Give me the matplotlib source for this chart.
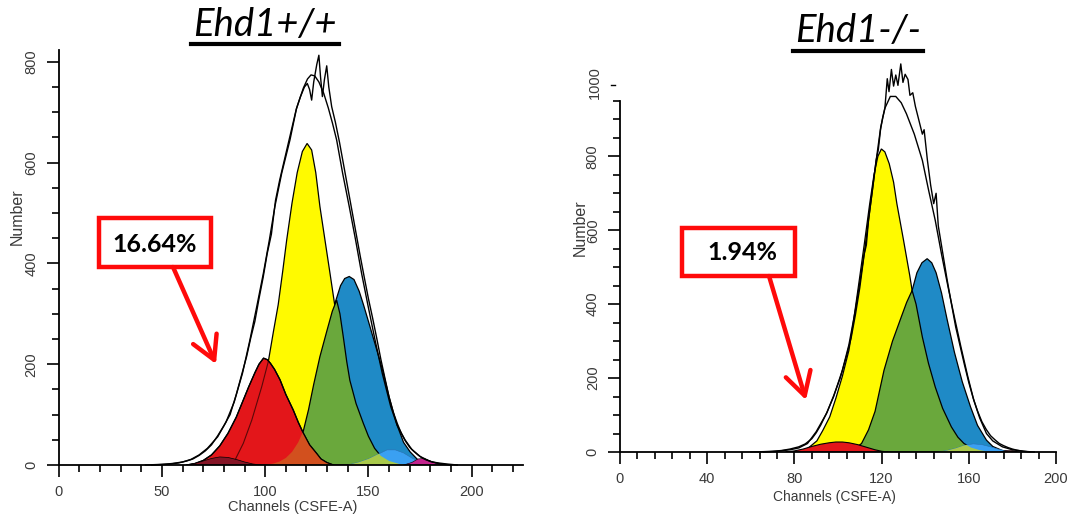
import matplotlib
matplotlib.use('Agg')
import matplotlib.pyplot as plt
from matplotlib.ticker import MultipleLocator
from matplotlib.lines import Line2D
from matplotlib.patches import Rectangle

# ---------------- data : left panel (Ehd1+/+) ----------------
L_darkred_x = [62, 66, 70, 74, 78, 82, 86, 90, 94, 98]
L_darkred_y = [0, 3, 8, 13, 16, 15, 11, 6, 2, 0]

L_red_x = [62, 66, 70, 74, 78, 82, 86, 89, 92, 95, 97, 99.2, 101, 102.5, 104.5, 107.2, 110, 113.6, 116, 118.5, 121.5, 124.9, 127, 129.8, 133]
L_red_y = [0, 3, 9, 20, 38, 63, 95, 125, 155, 183, 200, 212, 209, 202, 190, 169, 140, 109, 85, 63, 40, 23, 12, 5, 0]

L_yel_x = [82, 85.4, 89.4, 93.5, 98.3, 101.5, 104, 106.3, 108.5, 110.4, 113, 115.5, 118, 120.3, 122.5, 124.5, 126.5, 129, 131.4, 133.8, 136.5, 139, 142, 145, 148, 152, 156, 160]
L_yel_y = [0, 10, 43, 89, 155, 205, 265, 318, 385, 446, 520, 580, 622, 638, 625, 580, 513, 445, 380, 314, 245, 185, 125, 80, 45, 18, 5, 0]

L_green_x = [100, 104, 107, 110, 113, 116, 118.5, 121, 123.5, 126.5, 129.8, 132.5, 134.6, 136.2, 137.8, 139.5, 141, 144, 147.5, 150, 153, 156, 160, 165, 170]
L_green_y = [0, 3, 7, 14, 26, 45, 68, 110, 160, 215, 265, 305, 327, 300, 255, 205, 168, 122, 83, 57, 33, 18, 8, 2, 0]

L_blue_x = [124, 127, 130, 133.8, 136.5, 138.5, 140.7, 143, 145.5, 147.6, 150, 152.5, 155, 157.2, 160, 163.7, 167, 170.2, 174, 178, 182]
L_blue_y = [0, 60, 170, 321, 356, 370, 374, 368, 345, 318, 285, 250, 215, 183, 135, 81, 45, 26, 10, 3, 0]

L_lb_x = [140, 145, 150, 155, 159, 163, 167, 171, 175, 179, 182]
L_lb_y = [0, 5, 12, 22, 30, 30, 24, 14, 6, 2, 0]

L_mag_x = [167, 171, 174, 177, 180, 183, 187]
L_mag_y = [0, 5, 12, 13, 8, 3, 0]

L_fit_x = [45, 50, 55, 60, 64, 68, 72, 77, 81, 85, 89, 92.6, 95.9, 99.1, 102, 104.7, 108, 112, 115.2, 118.5, 120.5, 122.2, 124, 126, 128.3, 130.6, 132.6, 134.6, 137.5, 140.7, 143.8, 146.7, 149.9, 153.2, 156.7, 160.8, 164, 167.7, 171, 175, 180, 185, 190]
L_fit_y = [0, 1, 3, 6, 11, 20, 33, 56, 85, 125, 182, 248, 314, 380, 446, 513, 579, 645, 708, 748, 766, 774, 772, 760, 738, 708, 678, 645, 579, 513, 446, 380, 314, 248, 182, 116, 78, 50, 31, 17, 7, 2, 0]

L_dat_x = [42, 48, 54, 58, 62, 65, 68, 71, 74, 77, 80, 83, 86, 89, 91, 93, 95, 97, 99, 101, 103, 105, 107, 109, 111, 113, 115, 117, 119, 120.4, 121.5, 122.5, 123.5, 125, 126, 126.8, 127.7, 128.7, 129.8, 130.8, 132.2, 134, 136, 138, 140, 142, 144, 146, 148, 150, 152, 154, 156, 158, 160, 162, 164, 166, 168, 170, 172, 174, 176, 178, 181, 184, 188, 193]
L_dat_y = [0, 1, 2, 4, 8, 12, 19, 28, 40, 58, 78, 100, 140, 185, 215, 252, 285, 330, 372, 420, 458, 525, 565, 600, 635, 670, 705, 730, 750, 757, 745, 724, 760, 795, 813, 770, 731, 765, 792, 750, 711, 680, 640, 595, 550, 505, 460, 415, 372, 330, 292, 252, 210, 172, 135, 105, 82, 62, 47, 35, 27, 20, 14, 10, 6, 4, 2, 0]

# ---------------- data : right panel (Ehd1-/-) ----------------
R_red_x = [76, 80, 84, 88, 92, 96, 99, 102, 105, 109, 113, 117, 120, 123]
R_red_y = [0, 3, 8, 15, 21, 25, 27, 27, 25, 20, 13, 6, 2, 0]

R_yel_x = [82, 86, 90.3, 93, 96.2, 99, 102, 105, 107, 109.4, 112, 114.5, 116.5, 118.3, 119.9, 121.5, 123.5, 125.5, 127, 130, 132.9, 134, 136, 138, 141, 144, 147, 150, 154, 158, 162]
R_yel_y = [0, 9, 30, 58, 95, 145, 205, 275, 350, 450, 560, 670, 750, 800, 820, 812, 780, 730, 672, 575, 478, 437, 380, 320, 240, 160, 100, 58, 25, 8, 0]

R_green_x = [104, 107, 110.8, 114, 117, 121.1, 125, 129, 131.5, 134, 135.8, 138.7, 141.5, 144.6, 148, 152, 155, 157.8, 161, 165, 170]
R_green_y = [0, 6, 23, 60, 110, 221, 300, 365, 405, 437, 400, 311, 240, 176, 118, 68, 40, 23, 12, 5, 0]

R_blue_x = [124, 128, 131, 134, 136.2, 138.5, 140.9, 143, 145, 147.5, 150, 153.4, 157, 160.8, 164, 168.1, 171, 175.4, 179]
R_blue_y = [0, 100, 280, 437, 485, 512, 523, 512, 485, 430, 360, 270, 190, 122, 72, 32, 15, 4, 0]

R_lb_x = [146, 150, 154, 158, 162, 166, 170, 174, 178, 181]
R_lb_y = [0, 4, 10, 18, 22, 20, 14, 7, 2, 0]

R_dr_x = [174, 177, 180, 183]
R_dr_y = [0, 4, 4, 0]

R_fit_x = [66, 72, 78, 82, 86, 90, 94.7, 98, 102, 105, 108, 110, 112.3, 114, 116, 118, 119.6, 121.5, 124, 126.5, 129, 131.4, 135, 138.7, 141.5, 144.6, 147.5, 150.5, 153.5, 156.4, 159.5, 162.3, 165, 168.1, 171, 175.4, 180, 184, 188]
R_fit_y = [0, 2, 6, 11, 23, 55, 104, 150, 221, 290, 385, 458, 548, 628, 720, 810, 879, 930, 962, 962, 945, 915, 860, 789, 710, 627, 535, 446, 362, 284, 205, 140, 92, 50, 30, 14, 6, 3, 0]

R_dat_x = [60, 66, 70, 74, 78, 82, 85, 88, 90, 92, 95, 98, 101, 104, 106, 108, 110, 112, 113, 114, 116, 117.5, 118.5, 119.5, 120.5, 121.5, 122.6, 123.4, 124.5, 125.5, 126.5, 127.5, 128.8, 129.8, 130.8, 132.1, 133, 134.3, 135.5, 137, 138.7, 139.5, 141, 142.5, 143.9, 145, 146, 147.5, 150, 152, 154, 156, 158, 160, 162, 164, 166, 168, 170, 172, 174, 176, 178, 180, 182, 185, 190]
R_dat_y = [0, 1, 2, 4, 8, 14, 22, 36, 52, 72, 108, 152, 200, 262, 308, 372, 445, 535, 560, 628, 718, 790, 818, 872, 905, 930, 1010, 975, 1035, 990, 1020, 992, 1050, 1000, 1022, 1008, 965, 972, 935, 900, 860, 872, 790, 722, 672, 700, 612, 558, 468, 402, 338, 287, 236, 188, 146, 111, 82, 61, 44, 33, 23, 17, 12, 8, 5, 2, 0]

# tick / label text
L_xticks = [0, 50, 100, 150, 200]
L_yticks = [0, 200, 400, 600, 800]
R_xticks = [0, 40, 80, 120, 160, 200]
R_yticks = [0, 200, 400, 600, 800]
titles = ["Ehd1+/+", "Ehd1-/-"]
percents = ["16.64%", "1.94%"]
xlabel = "Channels (CSFE-A)"
ylabel = "Number"

# ---------------- colours ----------------
C_YEL = '#fffa00'
C_GREEN = '#6aa83c'
C_BLUE = '#1f8ac6'
C_RED = '#e3161a'
C_ORANGE = '#d2501e'
C_DARKRED = '#851526'
C_LBLUE = '#3aa0f2'
C_LGREEN = '#a9c94a'
C_MAG = '#c2228c'
C_BOX = '#ff0a0a'
TXT = '#3a3a3a'

W, H = 1090, 531
fig = plt.figure(figsize=(W / 100, H / 100), dpi=100)


def fx(px):
    return px / W


def fy(py):
    return 1 - py / H


axL = fig.add_axes([fx(58.7), fy(465), 464.6 / W, 0.504 * 823 / H])
axR = fig.add_axes([fx(620), fy(452), 436 / W, 0.3696 * 950 / H])


def style_axes(ax, xmax, ymax, xmin, xt, yt):
    ax.set_xlim(0, xmax)
    ax.set_ylim(0, ymax)
    for s in ['top', 'right']:
        ax.spines[s].set_visible(False)
    for s in ['left', 'bottom']:
        ax.spines[s].set_linewidth(1.3)
    ax.set_xticks(xt)
    ax.set_yticks(yt)
    ax.xaxis.set_minor_locator(MultipleLocator(xmin))
    ax.yaxis.set_minor_locator(MultipleLocator(50))
    ax.tick_params(which='major', direction='out', length=8.5, width=1.2, pad=6,
                   labelsize=10.5, labelcolor=TXT, labelfontfamily='Liberation Sans')
    ax.tick_params(which='minor', direction='out', length=5, width=1.2)
    ax.tick_params(axis='y', labelrotation=90)
    for lab in ax.get_yticklabels():
        lab.set_va('center')
    ax.patch.set_alpha(0)


def fill(ax, x, y, color, lw=0.9, ec='black', z=2):
    return ax.fill(x, y, facecolor=color, edgecolor=ec, linewidth=lw, zorder=z)[0]


# ---------------- left panel ----------------
style_axes(axL, 225, 823, 10, L_xticks, L_yticks)
fill(axL, L_yel_x, L_yel_y, C_YEL)
fill(axL, L_blue_x, L_blue_y, C_BLUE)
gL = fill(axL, L_green_x, L_green_y, C_GREEN)
rL = fill(axL, L_red_x, L_red_y, C_RED)
o = fill(axL, L_red_x, L_red_y, C_ORANGE, lw=0)
o.set_clip_path(gL)
ln, = axL.plot(L_yel_x, L_yel_y, color='#5a0808', lw=0.8, zorder=2)
ln.set_clip_path(rL)
axL.plot(L_red_x, L_red_y, color='black', lw=0.9, zorder=2)
fill(axL, L_darkred_x, L_darkred_y, C_DARKRED, lw=0.5)
fill(axL, L_lb_x, L_lb_y, C_LBLUE, lw=0.4, ec='#2a70b0')
lg = fill(axL, L_lb_x, L_lb_y, C_LGREEN, lw=0)
lg.set_clip_path(gL)
fill(axL, L_mag_x, L_mag_y, C_MAG, lw=0.4)
axL.plot(L_fit_x, L_fit_y, color='black', lw=1.0, zorder=3, clip_on=False)
axL.plot(L_dat_x, L_dat_y, color='black', lw=1.0, zorder=3, clip_on=False)

# ---------------- right panel ----------------
style_axes(axR, 200, 950, 8, R_xticks, R_yticks)
fill(axR, R_yel_x, R_yel_y, C_YEL)
fill(axR, R_blue_x, R_blue_y, C_BLUE)
gR = fill(axR, R_green_x, R_green_y, C_GREEN)
fill(axR, R_red_x, R_red_y, C_RED, lw=0.8)
fill(axR, R_lb_x, R_lb_y, C_LBLUE, lw=0.4, ec='#2a70b0')
lg2 = fill(axR, R_lb_x, R_lb_y, C_LGREEN, lw=0)
lg2.set_clip_path(gR)
fill(axR, R_dr_x, R_dr_y, C_DARKRED, lw=0.4)
axR.plot(R_fit_x, R_fit_y, color='black', lw=1.0, zorder=3, clip_on=False)
axR.plot(R_dat_x, R_dat_y, color='black', lw=1.0, zorder=3, clip_on=False)
# the stray "1000" label above the axis
axR.text(-0.058, 1000, "1000", rotation=90, ha='center', va='center', fontsize=10.5,
         color=TXT, family='Liberation Sans', transform=axR.get_yaxis_transform(), clip_on=False)
fig.add_artist(Line2D([fx(611), fx(615)], [fy(85), fy(85)], color='black', lw=1.0))

# ---------------- axis labels ----------------
fig.text(fx(17), fy(217), ylabel, rotation=90, ha='center', va='center', fontsize=11.5,
         color=TXT, family='Liberation Sans')
fig.text(fx(580), fy(228), ylabel, rotation=90, ha='center', va='center', fontsize=11.5,
         color=TXT, family='Liberation Sans')
fig.text(fx(293), fy(507), xlabel, ha='center', va='center', fontsize=10.5,
         color=TXT, family='Liberation Sans')
fig.text(fx(834), fy(497), xlabel, ha='center', va='center', fontsize=10,
         color=TXT, family='Liberation Sans')

# ---------------- titles ----------------
fig.text(fx(265), fy(25), titles[0], ha='center', va='center', fontsize=27.5,
         style='italic', family='Lato', color='black')
fig.add_artist(Line2D([fx(191), fx(339)], [fy(43.5), fy(43.5)], color='black', lw=3))
fig.text(fx(858), fy(31), titles[1], ha='center', va='center', fontsize=27.5,
         style='italic', family='Lato', color='black')
fig.add_artist(Line2D([fx(793), fx(923)], [fy(50.5), fy(50.5)], color='black', lw=3))


# ---------------- boxes + arrows ----------------
def box(x0, y0, x1, y1, text, tx, ty):
    fig.add_artist(Rectangle((fx(x0), fy(y1)), fx(x1) - fx(x0), fy(y0) - fy(y1),
                             transform=fig.transFigure, facecolor='white',
                             edgecolor=C_BOX, linewidth=3.2, zorder=5))
    fig.text(fx(tx), fy(ty), text, ha='center', va='center', fontsize=18,
             fontweight='bold', family='Lato', color='black', zorder=6)


def arrow(x0, y0, x1, y1):
    fig.add_artist(matplotlib.patches.FancyArrowPatch(
        (fx(x0), fy(y0)), (fx(x1), fy(y1)), transform=fig.transFigure,
        arrowstyle='->,head_length=0.75,head_width=0.42', mutation_scale=22,
        color=C_BOX, linewidth=3.2, zorder=5, shrinkA=0, shrinkB=0))


box(99, 218, 211, 267, percents[0], 155, 244)
arrow(173, 267, 216, 364)
box(682, 228, 795, 276, percents[1], 742, 253)
arrow(769, 276, 806, 400)

fig.savefig('out.png', dpi=100)
